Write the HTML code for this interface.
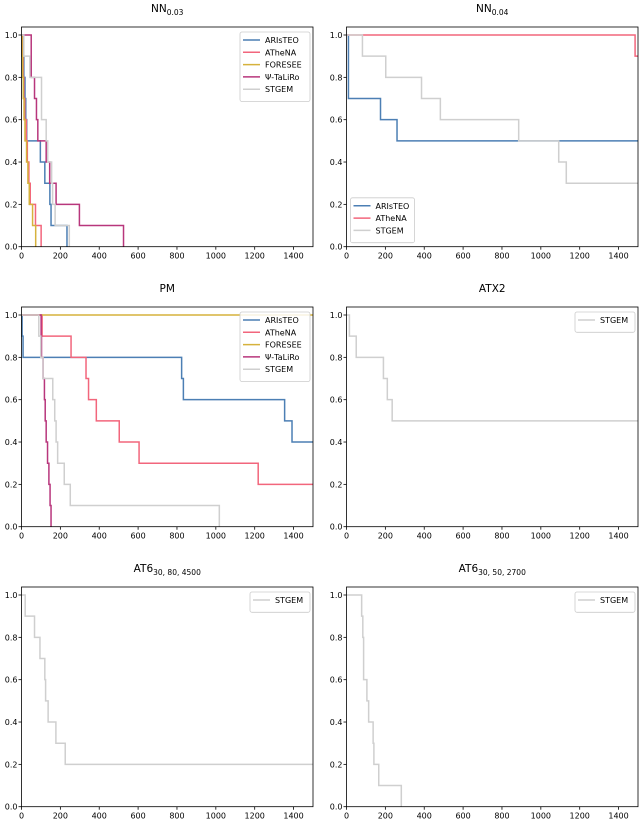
<!DOCTYPE html>
<html><head><meta charset="utf-8">
<style>
body{margin:0;background:#fff;}
svg{display:block;font-family:"DejaVu Sans","Liberation Sans",sans-serif;}
</style></head>
<body>
<svg id="fig" width="640" height="819" viewBox="0 0 640 819" xmlns="http://www.w3.org/2000/svg"></svg>
<script>
const methods = ["ARIsTEO","ATheNA","FORESEE","Ψ-TaLiRo","STGEM"];
const colors = {"ARIsTEO":"#4c7fb4","ATheNA":"#f2667c","FORESEE":"#d6b23c","Ψ-TaLiRo":"#b8367c","STGEM":"#cfcfcf"};
// Drop times (each drop = -0.1 from 1.0)
const nn003_aristeo = [8,12,18,22,27,97,120,146,152,234];
const nn003_athena = [4,8,12,17,25,30,38,45,72,101];
const nn003_foresee = [3,6,9,13,18,26,33,40,57,73];
const nn003_taliro = [50,50,67,77,84,127,145,178,298,525];
const nn003_stgem = [12,43,103,103,127,135,155,160,173,246];
const nn004_aristeo = [10,10,10,175,260];
const nn004_athena = [1485];
const nn004_stgem = [82,202,386,483,886,1092,1131];
const pm_aristeo = [3,8,824,833,1354,1392];
const pm_athena = [106,255,332,345,385,503,605,1218];
const pm_foresee = [];
const pm_taliro = [101,103,111,118,122,127,134,141,147,152];
const pm_stgem = [89,99,111,161,171,178,186,220,251,1018];
const atx2_stgem = [15,50,190,210,235];
const at6a_stgem = [19,67,95,120,124,137,177,225];
const at6b_stgem = [78,84,88,88,105,114,137,141,166,282];
const xTicks = [0,200,400,600,800,1000,1200,1400];
const yTicks = [0,0.2,0.4,0.6,0.8,1.0];

const panels = [
 {name:"nn-0-03",title:"NN",sub:"0.03",x0:21.5,y0:246.7,series:[["ARIsTEO",nn003_aristeo],["ATheNA",nn003_athena],["FORESEE",nn003_foresee],["Ψ-TaLiRo",nn003_taliro],["STGEM",nn003_stgem]],legend:"tr"},
 {name:"nn-0-04",title:"NN",sub:"0.04",x0:346.5,y0:246.7,series:[["ARIsTEO",nn004_aristeo],["ATheNA",nn004_athena],["STGEM",nn004_stgem]],legend:"bl"},
 {name:"pm",title:"PM",sub:"",x0:21.5,y0:526.7,series:[["ARIsTEO",pm_aristeo],["ATheNA",pm_athena],["FORESEE",pm_foresee],["Ψ-TaLiRo",pm_taliro],["STGEM",pm_stgem]],legend:"tr"},
 {name:"atx2",title:"ATX2",sub:"",x0:346.5,y0:526.7,series:[["STGEM",atx2_stgem]],legend:"tr"},
 {name:"at6-30-80-4500",title:"AT6",sub:"30, 80, 4500",x0:21.5,y0:806.7,series:[["STGEM",at6a_stgem]],legend:"tr"},
 {name:"at6-30-50-2700",title:"AT6",sub:"30, 50, 2700",x0:346.5,y0:806.7,series:[["STGEM",at6b_stgem]],legend:"tr"}
];
const W=291.5, H=219.7, YU=211.7;
const NS="http://www.w3.org/2000/svg";
const svg=document.getElementById('fig');
function mk(tag,attrs,parent){const e=document.createElementNS(NS,tag);for(const k in attrs)e.setAttribute(k,attrs[k]);(parent||svg).appendChild(e);return e;}

panels.forEach(p=>{
  const g=mk('g',{});
  
  
  const sx=v=>p.x0+v/1500*W;
  const sy=v=>p.y0-v*YU;
  const top=p.y0-H;
  const t=mk('text',{x:p.x0+W/2,y:top-15,'text-anchor':'middle','font-size':'10.5',fill:'#000'},g);
  
  
  t.textContent=p.title;
  if(p.sub){const ts=mk('tspan',{'font-size':'7.5',dy:'3'},t);ts.textContent=p.sub;}
  p.series.forEach(([m,drops])=>{
    let d='M'+sx(0)+','+sy(1);let v=1;
    drops.forEach(tm=>{d+=' H'+sx(tm);v=Math.round((v-0.1)*10)/10;d+=' V'+sy(v);});
    if(v>0.001) d+=' H'+sx(1500);
    const path=mk('path',{d:d,fill:'none',stroke:colors[m],'stroke-width':'1.5'},g);
    
    
  });
  const fr=mk('rect',{x:p.x0,y:top,width:W,height:H,fill:'none',stroke:'#000','stroke-width':'0.8'},g);
  
  
  xTicks.forEach(v=>{
    mk('line',{x1:sx(v),x2:sx(v),y1:p.y0,y2:p.y0+3,stroke:'#000','stroke-width':'0.8'},g);
    const tx=mk('text',{x:sx(v),y:p.y0+12,'text-anchor':'middle','font-size':'8',fill:'#000'},g);
    
    
    tx.textContent=v;
  });
  yTicks.forEach(v=>{
    mk('line',{x1:p.x0-3,x2:p.x0,y1:sy(v),y2:sy(v),stroke:'#000','stroke-width':'0.8'},g);
    const ty=mk('text',{x:p.x0-4,y:sy(v)+3,'text-anchor':'end','font-size':'8',fill:'#000'},g);
    
    
    ty.textContent=v.toFixed(1);
  });
  const n=p.series.length;
  const lw=n===1?60:70, lh=8+n*12.3;
  let lx,ly;
  if(p.legend==='tr'){lx=p.x0+W-lw-3;ly=top+5;}else{lx=p.x0+4;ly=p.y0-lh-4;}
  const lg=mk('g',{},g);
  
  
  const w2=p.name==='nn-0-04'?64:lw;
  mk('rect',{x:lx,y:ly,width:w2,height:lh,fill:'#fff','fill-opacity':'0.85',stroke:'#ccc','stroke-width':'0.8',rx:'2'},lg);
  p.series.forEach(([m],i)=>{
    const yy=ly+8+i*12.3;
    const ent=mk('g',{},lg);
    
    
    mk('line',{x1:lx+3,x2:lx+20,y1:yy,y2:yy,stroke:colors[m],'stroke-width':'1.5'},ent);
    const lt=mk('text',{x:lx+25,y:yy+3,'font-size':'8',fill:'#000'},ent);
    lt.textContent=m;
  });
});
</script>
</body></html>
